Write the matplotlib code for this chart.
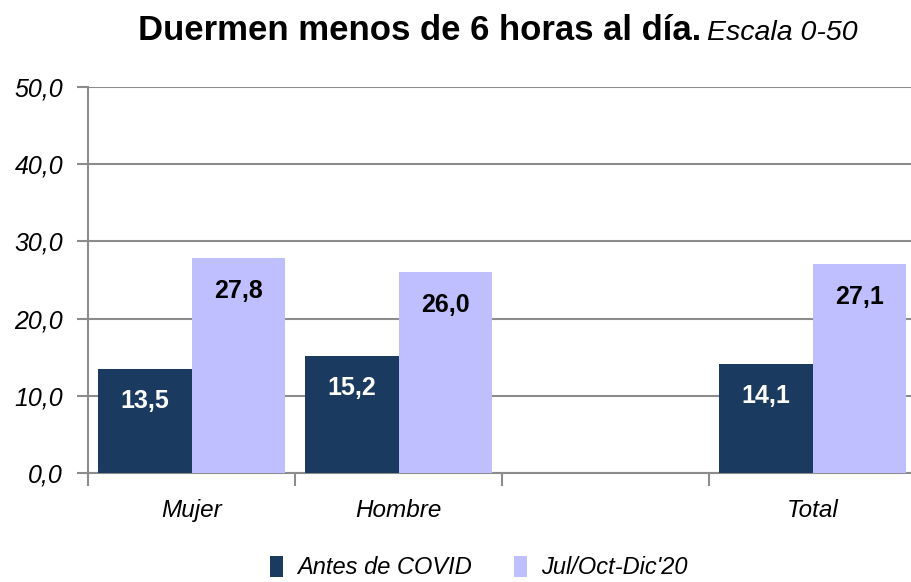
import matplotlib
matplotlib.use("Agg")
import matplotlib.pyplot as plt
import numpy as np

categories = ['Mujer', 'Hombre', '', 'Total']
antes = [13.5, 15.2, None, 14.1]
jul_dic = [27.8, 26.0, None, 27.1]
series_names = ['Antes de COVID', "Jul/Oct-Dic'20"]
yticks = [0, 10, 20, 30, 40, 50]

DARK = '#1b3a5f'
LIGHT = '#bfbfff'
GRID = '#8c8c8c'

plt.rcParams['font.family'] = ['Liberation Sans Narrow', 'Liberation Sans', 'DejaVu Sans']


def main():
    fig = plt.figure(figsize=(9.12, 5.82), dpi=100)
    ax = fig.add_axes([88 / 912, 1 - 473 / 582, 1 - 88 / 912, 386 / 582])

    x = np.arange(len(categories))
    w = 0.45
    for i, (a, b) in enumerate(zip(antes, jul_dic)):
        if a is None:
            continue
        ax.bar(x[i] - w / 2, a, w, color=DARK, zorder=3,
               label=series_names[0] if i == 0 else None)
        ax.bar(x[i] + w / 2, b, w, color=LIGHT, zorder=3,
               label=series_names[1] if i == 0 else None)
        ax.annotate(f'{a:.1f}'.replace('.', ','), (x[i] - w / 2, a),
                    xytext=(0, -32), textcoords='offset pixels',
                    ha='center', va='center', color='white',
                    fontsize=18, fontweight='bold', zorder=4)
        ax.annotate(f'{b:.1f}'.replace('.', ','), (x[i] + w / 2, b),
                    xytext=(0, -33), textcoords='offset pixels',
                    ha='center', va='center', color='black',
                    fontsize=18, fontweight='bold', zorder=4)

    ax.set_xlim(-0.5, 3.48)
    ax.set_ylim(0, 50)
    ax.set_yticks(yticks)
    ax.set_yticklabels([f'{v:.1f}'.replace('.', ',') for v in yticks],
                       fontsize=18, style='italic')
    ax.yaxis.grid(True, color=GRID, linewidth=1.5, zorder=0)

    ax.set_xticks(x)
    ax.set_xticklabels(categories, fontsize=17.5, style='italic')
    ax.tick_params(axis='x', length=0, pad=19)
    ax.set_xticks(np.arange(-0.5, 3.5, 1), minor=True)
    ax.tick_params(axis='x', which='minor', length=9, color=GRID, width=1.5)
    ax.tick_params(axis='y', length=8, color=GRID, width=1.5, pad=10)

    for s in ['top', 'right']:
        ax.spines[s].set_visible(False)
    for s in ['left', 'bottom']:
        ax.spines[s].set_color(GRID)
        ax.spines[s].set_linewidth(1.5)

    fig.text(0.769, 0.932, 'Duermen menos de 6 horas al día.', ha='right',
             va='baseline', fontsize=25, fontweight='bold')
    fig.text(0.775, 0.932, 'Escala 0-50', ha='left', va='baseline',
             fontsize=20.5, style='italic')

    fig.legend(loc='center', bbox_to_anchor=(0.525, 0.025), ncol=2,
               frameon=False, prop={'size': 17, 'style': 'italic'},
               handlelength=0.55, handleheight=1.0, columnspacing=1.8,
               handletextpad=0.6)

    fig.savefig('out.png', dpi=100)


if __name__ == '__main__':
    main()
